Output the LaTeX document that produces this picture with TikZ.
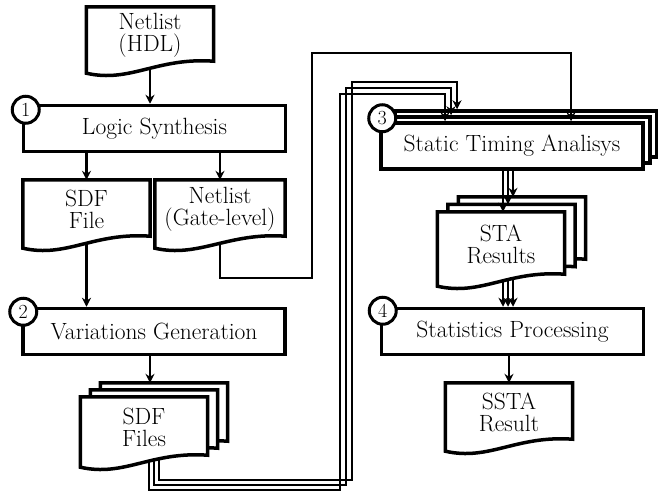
\documentclass[tikz,border=0pt]{standalone}
\usetikzlibrary{arrows.meta,calc}
\pgfdeclarelayer{back}
\pgfdeclarelayer{wires}
\pgfdeclarelayer{docs}
\pgfsetlayers{back,wires,docs,main}
\newcommand\docpath[1]{(#1.north west) -- (#1.north east) -- ($(#1.south east)+(0,-2)$) .. controls +(-57,-4) and +(44,10) .. ($(#1.south west)+(0,10)$) -- cycle}
\tikzset{
  txt/.style={font=\fontsize{23.5}{22}\selectfont},
  procbox/.style={txt, draw, line width=3.5pt, fill=white, minimum width=262pt, minimum height=46pt, inner sep=0pt},
  docnode/.style={txt, align=center, minimum width=127pt, minimum height=58pt, inner sep=0pt},
  docline/.style={draw, line width=3.5pt, fill=white},
  numcirc/.style={circle, draw, line width=3pt, fill=white, minimum size=27pt, inner sep=0pt, font=\fontsize{20}{20}\selectfont},
  wire/.style={line width=2.4pt},
  arr/.style={wire, -{Stealth[length=9pt,width=9pt,inset=3pt]}},
}
\begin{document}
\begin{tikzpicture}[x=1pt,y=-1pt]
\useasboundingbox (0,0) rectangle (658,493);

% process boxes
\node[procbox] (logic) at (154.5,128.5) {Logic Synthesis};
\node[procbox] (vg) at (154,331.5) {Variations Generation};
\begin{pgfonlayer}{back}
  \node[procbox] (staC) at (526,134) {};
  \node[procbox] (staB) at (519,140) {};
\end{pgfonlayer}
\node[procbox] (staA) at (512,146) {Static Timing Analisys};
\node[procbox] (sp) at (512.5,331.5) {Statistics Processing};

% documents
\node[docnode, minimum height=56pt] (hdl) at (150,35) {Netlist\\(HDL)};
\node[docnode] (sdf1) at (86.5,209) {SDF\\File};
\node[docnode, minimum width=130pt] (netg) at (220,209) {Netlist\\(Gate-level)};
\node[docnode, minimum height=60pt] (sdfsC) at (164,413) {};
\node[docnode, minimum height=60pt] (sdfsB) at (154,420) {};
\node[docnode, minimum height=60pt] (sdfsA) at (144,427) {SDF\\Files};
\node[docnode, minimum height=64pt] (resC) at (522,229) {};
\node[docnode, minimum height=64pt] (resB) at (511.5,236.5) {};
\node[docnode, minimum height=64pt] (resA) at (501,244) {STA\\Results};
\node[docnode] (ssta) at (509,412) {SSTA\\Result};

\begin{pgfonlayer}{back}
  \path[docline] \docpath{sdfsC};
  \path[docline] \docpath{sdfsB};
  \path[docline] \docpath{resC};
  \path[docline] \docpath{resB};
\end{pgfonlayer}
\begin{pgfonlayer}{docs}
  \path[docline] \docpath{hdl};
  \path[docline] \docpath{sdf1};
  \path[docline] \docpath{netg};
  \path[docline] \docpath{sdfsA};
  \path[docline] \docpath{resA};
  \path[docline] \docpath{ssta};
\end{pgfonlayer}

% step numbers
\node[numcirc] (n1) at ($(logic.north west)+(4,6)$) {1};
\node[numcirc] (n2) at ($(vg.north west)+(2,5)$) {2};
\node[numcirc] (n3) at ($(staA.north west)+(3,-3)$) {3};
\node[numcirc] (n4) at ($(sp.north west)+(3,4)$) {4};

% connectors
\begin{pgfonlayer}{wires}
  \draw[arr] (hdl.south) -- (hdl.south |- logic.north);
  \draw[arr] (sdf1.north |- logic.south) -- (sdf1.north);
  \draw[arr] (netg.north |- logic.south) -- (netg.north);
  \draw[arr] (sdf1.south) -- (sdf1.south |- vg.north);
  \coordinate (v1) at ($(vg.south)+(-4,0)$);
  \draw[arr] (v1) -- (v1 |- sdfsC.north);
  % netlist to STA
  \draw[arr] (netg.south) |- (312,278) -- (312,53) -| ($(staA.north)+(59,0)$);
  % SDF files to STA
  \draw[arr] ($(sdfsA.south)+(5,0)$) |- (340,490) -- (340,94) -| ($(staA.north)+(-67,0)$);
  \draw[arr] ($(sdfsA.south)+(10,0)$) |- (346,485) -- (346,88) -| ($(staB.north)+(-68,0)$);
  \draw[arr] ($(sdfsA.south)+(15,0)$) |- (352,480) -- (352,82) -| ($(staC.north)+(-69,0)$);
  % STA to results
  \draw[arr] ($(staA.south)+(-9,0)$) -- ($(resA.north)+(2,0)$);
  \draw[arr] ($(staB.south)+(-11,0)$) -- ($(resB.north)+(-3.5,0)$);
  \draw[arr] ($(staC.south)+(-13,0)$) -- ($(resC.north)+(-9,0)$);
  % results to statistics
  \coordinate (r1) at ($(resA.south)+(2,0)$);
  \coordinate (r2) at ($(resB.south)+(-3.5,0)$);
  \coordinate (r3) at ($(resC.south)+(-9,0)$);
  \draw[arr] (r1) -- (r1 |- sp.north);
  \draw[arr] (r2) -- (r2 |- sp.north);
  \draw[arr] (r3) -- (r3 |- sp.north);
  % statistics to result
  \draw[arr] (ssta.north |- sp.south) -- (ssta.north);
\end{pgfonlayer}
\end{tikzpicture}
\end{document}
